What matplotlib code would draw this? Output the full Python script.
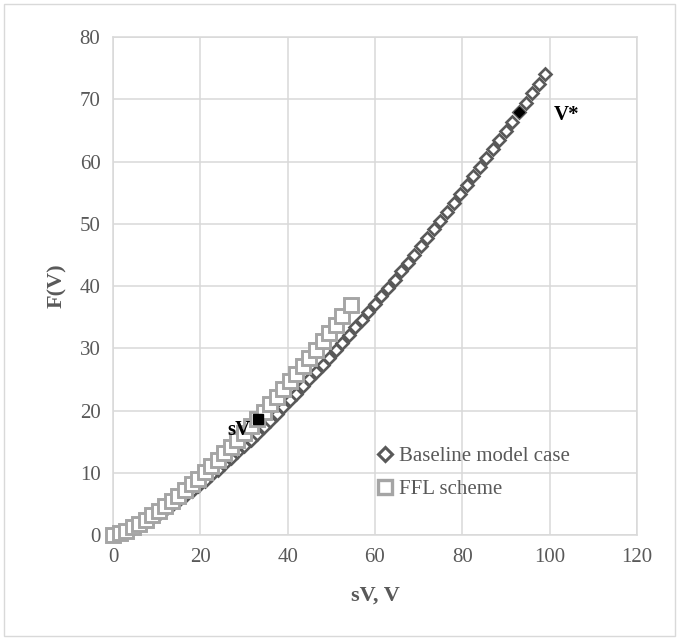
import matplotlib
matplotlib.use("Agg")
import matplotlib.pyplot as plt
from matplotlib.lines import Line2D
from matplotlib.patches import Rectangle

# baseline model case (step 1.5 in sV)
base_x = [0, 1.5, 3, 4.5, 6, 7.5, 9, 10.5, 12, 13.5, 15, 16.5, 18, 19.5, 21, 22.5,
          24, 25.5, 27, 28.5, 30, 31.5, 33, 34.5, 36, 37.5, 39, 40.5, 42, 43.5, 45,
          46.5, 48, 49.5, 51, 52.5, 54, 55.5, 57, 58.5, 60, 61.5, 63, 64.5, 66, 67.5,
          69, 70.5, 72, 73.5, 75, 76.5, 78, 79.5, 81, 82.5, 84, 85.5, 87, 88.5, 90,
          91.5, 93, 94.5, 96, 97.5, 99]
base_y = [0, 0.23, 0.60, 1.05, 1.56, 2.12, 2.73, 3.37, 4.05, 4.76, 5.51, 6.28, 7.08,
          7.90, 8.75, 9.63, 10.52, 11.44, 12.38, 13.33, 14.31, 15.30, 16.31, 17.35,
          18.39, 19.45, 20.53, 21.63, 22.74, 23.87, 25.01, 26.16, 27.33, 28.51, 29.71,
          30.92, 32.15, 33.38, 34.62, 35.88, 37.16, 38.45, 39.74, 41.05, 42.37, 43.70,
          45.05, 46.40, 47.76, 49.14, 50.52, 51.92, 53.33, 54.75, 56.17, 57.61, 59.06,
          60.51, 61.98, 63.46, 64.94, 66.44, 67.95, 69.46, 70.98, 72.53, 74.06]

# FFL scheme
ffl_x = [0, 1.5, 3, 4.5, 6, 7.5, 9, 10.5, 12, 13.5, 15, 16.5, 18, 19.5, 21, 22.5,
         24, 25.5, 27, 28.5, 30, 31.5, 33, 34.5, 36, 37.5, 39, 40.5, 42, 43.5, 45,
         46.5, 48, 49.5, 51, 52.5, 54.5]
ffl_y = [0, 0.27, 0.70, 1.22, 1.81, 2.46, 3.16, 3.90, 4.68, 5.50, 6.35, 7.23, 8.14,
         9.08, 10.05, 11.05, 12.07, 13.11, 14.17, 15.26, 16.36, 17.51, 18.65, 19.81,
         21.00, 22.21, 23.43, 24.68, 25.93, 27.20, 28.50, 29.80, 31.12, 32.46, 33.81,
         35.17, 37.0]

# marked points
sv_point = (33.3, 18.6)
vstar_point = (93, 68.0)

GRID = "#d9d9d9"
TEXT = "#595959"
DARK = "#595959"
LIGHT = "#a5a5a5"

plt.rcParams["font.family"] = "Liberation Serif"

fig = plt.figure(figsize=(6.79, 6.40), dpi=100)
ax = fig.add_axes([0.1664, 0.164, 0.7716, 0.778])

ax.set_xlim(0, 120)
ax.set_ylim(0, 80)
ax.set_xticks(range(0, 121, 20))
ax.set_yticks(range(0, 81, 10))
ax.grid(True, color=GRID, linewidth=1.1)
ax.set_axisbelow(True)
for s in ax.spines.values():
    s.set_color(GRID)
    s.set_linewidth(1.1)
ax.tick_params(length=0, labelsize=15, labelcolor=TEXT)
ax.tick_params(axis="x", pad=9)
ax.tick_params(axis="y", pad=9)

ax.plot(base_x, base_y, linestyle="none", marker="D", markersize=6.2,
        markerfacecolor="white", markeredgecolor=DARK, markeredgewidth=1.9,
        clip_on=False, zorder=3)
ax.plot(ffl_x, ffl_y, linestyle="none", marker="s", markersize=10.5,
        markerfacecolor="white", markeredgecolor=LIGHT, markeredgewidth=2.1,
        clip_on=False, zorder=4)

ax.plot([sv_point[0]], [sv_point[1]], linestyle="none", marker="s", markersize=7.5,
        color="black", zorder=5)
ax.plot([vstar_point[0]], [vstar_point[1]], linestyle="none", marker="D", markersize=5,
        color="black", zorder=5)
ax.text(sv_point[0] - 1.8, sv_point[1] - 1.8, "sV", ha="right", va="center",
        fontsize=15, fontweight="bold", color="black", zorder=6)
ax.text(vstar_point[0] + 8.0, vstar_point[1] - 0.5, "V*", ha="left", va="center",
        fontsize=15, fontweight="bold", color="black", zorder=6)

ax.set_xlabel("sV, V", fontsize=16, fontweight="bold", color=TEXT, labelpad=14)
ax.set_ylabel("F(V)", fontsize=16, fontweight="bold", color=TEXT, labelpad=9)

handles = [
    Line2D([], [], linestyle="none", marker="D", markersize=7, markerfacecolor="white",
           markeredgecolor=DARK, markeredgewidth=2.2),
    Line2D([], [], linestyle="none", marker="s", markersize=9.5, markerfacecolor="white",
           markeredgecolor=LIGHT, markeredgewidth=2.4),
]
ax.legend(handles, ["Baseline model case", "FFL scheme"], loc="upper left",
          bbox_to_anchor=(0.487, 0.195), frameon=False, fontsize=15,
          labelcolor=TEXT, handlelength=0.8, handletextpad=0.3, labelspacing=0.65,
          borderaxespad=0)

fig.patches.append(Rectangle((0.006, 0.006), 0.988, 0.988, transform=fig.transFigure,
                             fill=False, edgecolor=GRID, linewidth=1.0))

fig.savefig("out.png", dpi=100)
